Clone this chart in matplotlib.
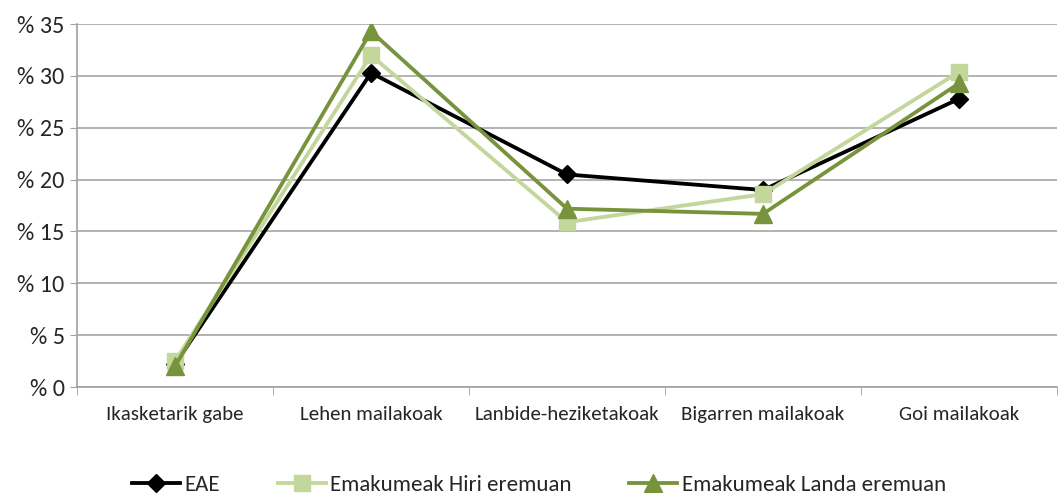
import matplotlib
matplotlib.use('Agg')
import matplotlib.pyplot as plt
from matplotlib.ticker import FixedLocator

# education levels and shares (%)
categories = ['Ikasketarik gabe', 'Lehen mailakoak', 'Lanbide-heziketakoak',
              'Bigarren mailakoak', 'Goi mailakoak']
eae = [2.2, 30.3, 20.5, 19.0, 27.8]
hiri = [2.5, 32.0, 15.9, 18.6, 30.4]
landa = [2.0, 34.3, 17.2, 16.7, 29.3]
yticks = [0, 5, 10, 15, 20, 25, 30, 35]

plt.rcParams['font.family'] = ['Carlito', 'DejaVu Sans']

fig = plt.figure(figsize=(10.61, 4.93), dpi=100)
ax = fig.add_axes([0.0726, 0.215, 0.9237, 0.736])

x = range(len(categories))
ax.plot(x, eae, color='black', lw=2.75, marker='D', ms=9.5, label='EAE', zorder=3)
ax.plot(x, hiri, color='#C3D69B', lw=2.75, marker='s', ms=11,
        label='Emakumeak Hiri eremuan', zorder=4)
ax.plot(x, landa, color='#77933C', lw=2.75, marker='^', ms=12.5,
        label='Emakumeak Landa eremuan', zorder=5)

ax.set_xlim(-0.5, len(categories) - 0.5)
ax.set_ylim(0, 35)
ax.set_yticks(yticks)
ax.set_yticklabels(['% ' + str(v) for v in yticks], fontsize=17.5, color='#262626')
ax.set_xticks(list(x))
ax.set_xticklabels(categories, fontsize=15, color='#262626')
ax.tick_params(axis='x', length=0, pad=14)
ax.xaxis.set_minor_locator(FixedLocator([i - 0.5 for i in range(len(categories) + 1)]))
ax.tick_params(axis='x', which='minor', length=6, color='#A0A0A0', direction='out')
ax.tick_params(axis='y', length=5, color='#A0A0A0', pad=4)

ax.grid(axis='y', color='#A6A6A6', lw=1.2)
ax.set_axisbelow(True)
for s in ['top', 'right']:
    ax.spines[s].set_visible(False)
for s in ['left', 'bottom']:
    ax.spines[s].set_color('#A0A0A0')
    ax.spines[s].set_linewidth(1.2)

fig.legend(loc='center', bbox_to_anchor=(0.508, 0.016), ncol=3, frameon=False,
           fontsize=16.5, handlelength=2.1, columnspacing=2.5, handletextpad=0.2,
           labelcolor='#262626')

fig.savefig('out.png', dpi=100)
